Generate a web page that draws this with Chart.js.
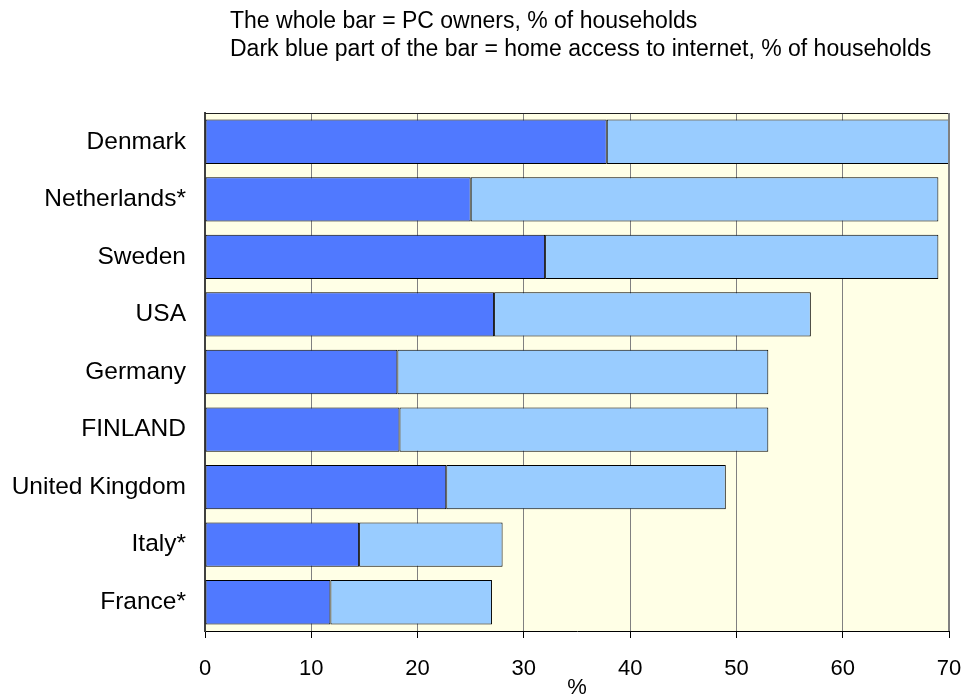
<!DOCTYPE html>
<html>
<head>
<meta charset="utf-8">
<script src="https://cdn.jsdelivr.net/npm/chart.js@4.4.0/dist/chart.umd.min.js"></script>
<style>
  html, body { margin: 0; padding: 0; background: #ffffff; }
  #wrap { width: 964px; height: 695px; }
</style>
</head>
<body>
<div id="wrap"><canvas id="chart-bars" width="964" height="695"></canvas></div>
<script>
// data
var countries = ["Denmark", "Netherlands*", "Sweden", "USA", "Germany", "FINLAND", "United Kingdom", "Italy*", "France*"];
var internetAccess = [37.8, 25.0, 32.0, 27.2, 18.1, 18.3, 22.7, 14.5, 11.8];
var pcOwners = [70, 69, 69, 57, 53, 53, 49, 28, 27];
var xTicks = [0, 10, 20, 30, 40, 50, 60, 70];
var headerLines = [
    "The whole bar = PC owners, % of households",
    "Dark blue part of the bar = home access to internet, % of households"
];

// light blue part is what is left of the PC owners bar
var pcOnly = pcOwners.map(function (v, i) { return +(v - internetAccess[i]).toFixed(1); });

var fontFamily = "'Liberation Sans', Arial, sans-serif";

var plotFrame = {
    id: "plotFrame",
    beforeDraw: function (chart) {
        var a = chart.chartArea, c = chart.ctx;
        c.save();
        c.fillStyle = "#FFFFE6";
        c.fillRect(a.left, a.top, a.right - a.left, a.bottom - a.top);
        c.restore();
    },
    afterDraw: function (chart) {
        var a = chart.chartArea, c = chart.ctx;
        c.save();
        c.lineWidth = 1;
        c.strokeStyle = "#202020";
        c.beginPath();
        c.moveTo(a.left, a.top + 0.5);
        c.lineTo(a.right, a.top + 0.5);
        c.stroke();
        c.strokeStyle = "#808080";
        c.beginPath();
        c.moveTo(a.right - 0.5, a.top);
        c.lineTo(a.right - 0.5, a.bottom);
        c.stroke();
        // header text
        c.fillStyle = "#000000";
        c.font = "23px " + fontFamily;
        c.textAlign = "left";
        c.textBaseline = "alphabetic";
        c.fillText(headerLines[0], 230, 28);
        c.fillText(headerLines[1], 230, 56);
        c.restore();
    }
};

var ctx1 = document.getElementById("chart-bars").getContext("2d");

new Chart(ctx1, {
    type: "bar",
    data: {
        labels: countries,
        datasets: [{
            label: "Home access to internet",
            data: internetAccess,
            backgroundColor: "#5079FF",
            borderColor: "#000000",
            borderWidth: 1,
            borderSkipped: false,
            barPercentage: 0.77,
            categoryPercentage: 1
        }, {
            label: "PC owners",
            data: pcOnly,
            backgroundColor: "#99CCFF",
            borderColor: "#000000",
            borderWidth: 1,
            borderSkipped: false,
            barPercentage: 0.77,
            categoryPercentage: 1
        }]
    },
    options: {
        indexAxis: "y",
        responsive: false,
        animation: false,
        layout: {
            padding: { left: 0, right: 15, top: 113, bottom: 0 }
        },
        plugins: {
            legend: { display: false },
            tooltip: { enabled: false },
            title: { display: false }
        },
        scales: {
            x: {
                stacked: true,
                min: 0,
                max: 70,
                afterBuildTicks: function (scale) {
                    scale.ticks = xTicks.map(function (v) { return { value: v }; });
                },
                afterFit: function (scale) {
                    scale.height = 64;
                    scale.paddingLeft = 0;
                    scale.paddingRight = 0;
                },
                grid: {
                    display: true,
                    drawOnChartArea: true,
                    drawTicks: true,
                    tickLength: 7,
                    color: "#808080",
                    tickColor: "#000000",
                    lineWidth: 1
                },
                border: { display: true, color: "#000000", width: 1 },
                ticks: {
                    color: "#000000",
                    padding: 18,
                    maxRotation: 0,
                    font: { size: 22, family: fontFamily }
                },
                title: {
                    display: true,
                    text: "%",
                    color: "#000000",
                    padding: { top: 0, bottom: -6 },
                    font: { size: 22, family: fontFamily }
                }
            },
            y: {
                stacked: true,
                afterFit: function (scale) { scale.width = 205; },
                grid: { display: false, drawTicks: false },
                border: { display: true, color: "#404040", width: 2 },
                ticks: {
                    color: "#000000",
                    padding: 19,
                    font: { size: 24.5, family: fontFamily }
                }
            }
        }
    },
    plugins: [plotFrame]
});
</script>
</body>
</html>
